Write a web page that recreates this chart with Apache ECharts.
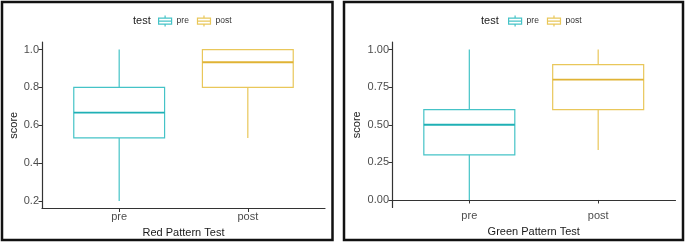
<!DOCTYPE html>
<html><head><meta charset="utf-8">
<script src="https://cdn.jsdelivr.net/npm/echarts@6/dist/echarts.min.js"></script>
<style>html,body{margin:0;padding:0;background:#fff}#c{width:685px;height:244px}</style>
</head><body><div id="c"></div>
<script>
const categories = ['pre', 'post'];
// Red Pattern Test: [pre, post]
const redMin = [0.2, 0.533];
const redQ1 = [0.533, 0.8];
const redMedian = [0.667, 0.933];
const redQ3 = [0.8, 1.0];
const redMax = [1.0, 1.0];
// Green Pattern Test: [pre, post]
const greenMin = [0.0, 0.333];
const greenQ1 = [0.3, 0.6];
const greenMedian = [0.5, 0.8];
const greenQ3 = [0.6, 0.9];
const greenMax = [1.0, 1.0];
const redTicks = [0.2, 0.4, 0.6, 0.8, 1.0];
const greenTicks = [0.0, 0.25, 0.5, 0.75, 1.0];

const boxColors = ['#45c3c7', '#e9c75a'];
const medColors = ['#1fb0b5', '#e0b334'];
const FONT = 'Liberation Sans, Arial, sans-serif';

function renderBox(params, api) {
  const x = api.value(0);
  const pMin = api.coord([x, api.value(1)]);
  const pQ1 = api.coord([x, api.value(2)]);
  const pMed = api.coord([x, api.value(3)]);
  const pQ3 = api.coord([x, api.value(4)]);
  const pMax = api.coord([x, api.value(5)]);
  const half = api.size([0.353, 0])[0];
  const i = params.seriesName === 'pre' ? 0 : 1;
  const st = { stroke: boxColors[i], lineWidth: 1.2, fill: null };
  const children = [];
  if (Math.abs(pMin[1] - pQ1[1]) > 0.5)
    children.push({ type: 'line', shape: { x1: pMin[0], y1: pMin[1], x2: pQ1[0], y2: pQ1[1] }, style: st });
  if (Math.abs(pMax[1] - pQ3[1]) > 0.5)
    children.push({ type: 'line', shape: { x1: pMax[0], y1: pMax[1], x2: pQ3[0], y2: pQ3[1] }, style: st });
  children.push({ type: 'rect', shape: { x: pQ1[0] - half, y: pQ3[1], width: half * 2, height: pQ1[1] - pQ3[1] }, style: { stroke: boxColors[i], lineWidth: 1.2, fill: 'transparent' } });
  children.push({ type: 'line', shape: { x1: pMed[0] - half, y1: pMed[1], x2: pMed[0] + half, y2: pMed[1] }, style: { stroke: medColors[i], lineWidth: 1.8 } });
  return { type: 'group', children };
}

function mk(idx, mins, q1, med, q3, maxs) {
  return categories.map((c, i) => ({
    name: c, type: 'custom', xAxisIndex: idx, yAxisIndex: idx,
    itemStyle: { color: boxColors[i] },
    encode: { x: 0, y: [1, 2, 3, 4, 5] },
    renderItem: renderBox,
    data: [[i + 1, mins[i], q1[i], med[i], q3[i], maxs[i]]]
  }));
}

const iconPath = 'path://M0,2.5H13V8.5H0Z M0,5.5H13 M6.5,0V2.5 M6.5,8.5V11';
function legendData() {
  return categories.map((c, i) => ({ name: c, icon: iconPath, itemStyle: { color: 'transparent', borderColor: boxColors[i], borderWidth: 1.2 } }));
}

function xAxis(idx, name, gap) {
  return {
    type: 'value', gridIndex: idx, min: 0.4, max: 2.6,
    name, nameLocation: 'middle', nameGap: gap,
    nameTextStyle: { color: '#1a1a1a', fontSize: 11, fontFamily: FONT },
    axisLine: { show: true, lineStyle: { color: '#333', width: 1.2 } },
    axisTick: { show: true, length: 3.5, customValues: [1, 2], lineStyle: { color: '#333' } },
    axisLabel: { customValues: [1, 2], formatter: v => categories[Math.round(v) - 1], color: '#4d4d4d', fontSize: 11, fontFamily: FONT, margin: 3 },
    splitLine: { show: false }
  };
}
function yAxis(idx, min, max, ticks, fmt, gap) {
  return {
    type: 'value', gridIndex: idx, min, max,
    name: 'score', nameLocation: 'middle', nameRotate: 90, nameGap: gap,
    nameTextStyle: { color: '#1a1a1a', fontSize: 11, fontFamily: FONT },
    axisLine: { show: true, lineStyle: { color: '#333', width: 1.2 } },
    axisTick: { show: true, length: 3.5, customValues: ticks, lineStyle: { color: '#333' } },
    axisLabel: { customValues: ticks, formatter: v => v.toFixed(fmt), color: '#4d4d4d', fontSize: 11, fontFamily: FONT, margin: 3 },
    splitLine: { show: false }
  };
}

const chart = echarts.init(document.getElementById('c'), null, { renderer: 'canvas' });
chart.setOption({
  animation: false,
  backgroundColor: '#fff',
  title: [
    { text: 'test', left: 128, top: 10, textStyle: { fontSize: 11, fontWeight: 'normal', color: '#1a1a1a', fontFamily: FONT } },
    { text: 'test', left: 476, top: 10, textStyle: { fontSize: 11, fontWeight: 'normal', color: '#1a1a1a', fontFamily: FONT } }
  ],
  legend: [
    { left: 153, top: 10, itemWidth: 13, itemHeight: 11, itemGap: 8, itemStyle: {}, selectedMode: false, data: legendData(), textStyle: { fontSize: 8.5, color: '#333', fontFamily: FONT } },
    { left: 503, top: 10, itemWidth: 13, itemHeight: 11, itemGap: 8, selectedMode: false, data: legendData(), textStyle: { fontSize: 8.5, color: '#333', fontFamily: FONT } }
  ],
  grid: [
    { left: 42, top: 42, width: 283, height: 166.5 },
    { left: 392, top: 42, width: 283.5, height: 165.5 }
  ],
  xAxis: [xAxis(0, 'Red Pattern Test', 14), xAxis(1, 'Green Pattern Test', 15)],
  yAxis: [yAxis(0, 0.16, 1.04, redTicks, 1, 22), yAxis(1, -0.05, 1.05, greenTicks, 2, 30)],
  series: [...mk(0, redMin, redQ1, redMedian, redQ3, redMax), ...mk(1, greenMin, greenQ1, greenMedian, greenQ3, greenMax)],
  graphic: [
    { type: 'rect', shape: { x: 2, y: 2, width: 330.5, height: 238 }, style: { fill: 'transparent', stroke: '#111', lineWidth: 2.5 }, z: 100 },
    { type: 'rect', shape: { x: 344, y: 2, width: 339, height: 238 }, style: { fill: 'transparent', stroke: '#111', lineWidth: 2.5 }, z: 100 }
  ]
});
</script></body></html>
